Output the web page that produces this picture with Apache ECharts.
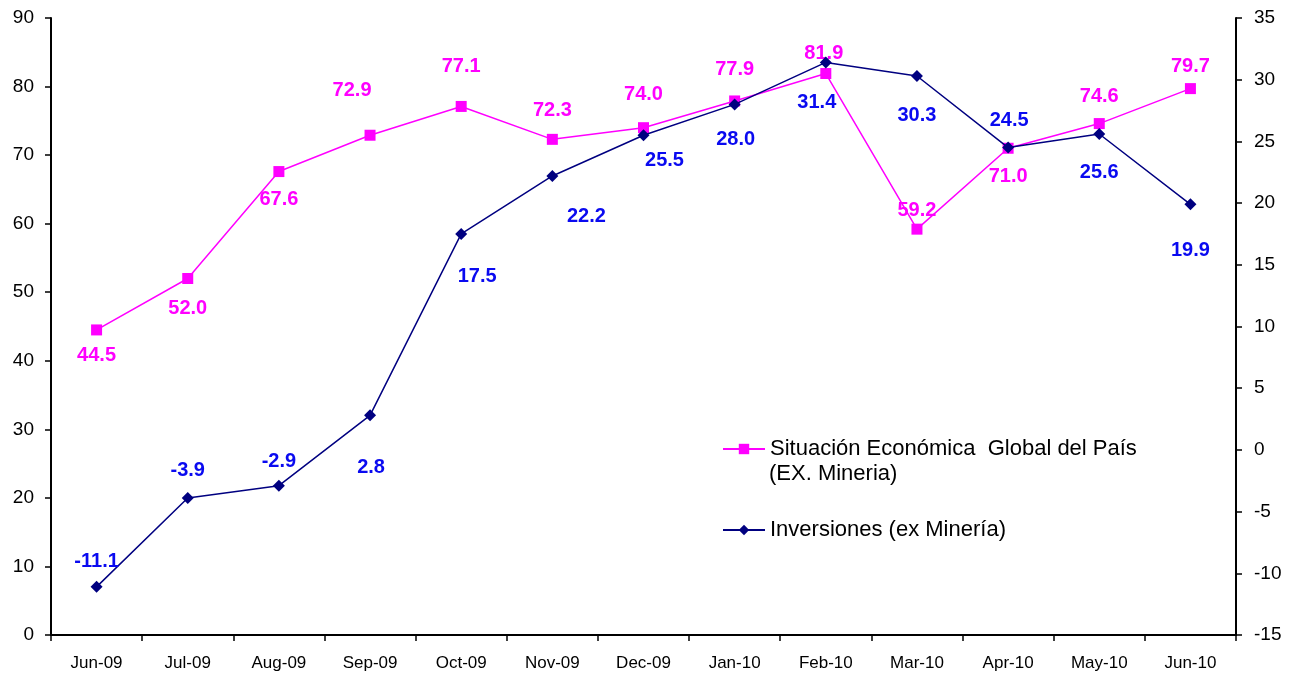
<!DOCTYPE html>
<html>
<head>
<meta charset="utf-8">
<script src="https://cdn.jsdelivr.net/npm/echarts@6/dist/echarts.min.js"></script>
<style>
  html, body { margin: 0; padding: 0; background: #fff; }
  #chart { width: 1294px; height: 673px; }
</style>
</head>
<body>
<div id="chart"></div>
<script>
// 数据
const months = ['Jun-09', 'Jul-09', 'Aug-09', 'Sep-09', 'Oct-09', 'Nov-09', 'Dec-09',
                'Jan-10', 'Feb-10', 'Mar-10', 'Apr-10', 'May-10', 'Jun-10'];
const situacion = [44.5, 52.0, 67.6, 72.9, 77.1, 72.3, 74.0, 77.9, 81.9, 59.2, 71.0, 74.6, 79.7];
const inversiones = [-11.1, -3.9, -2.9, 2.8, 17.5, 22.2, 25.5, 28.0, 31.4, 30.3, 24.5, 25.6, 19.9];

// 标签偏移 (px)
const situacionOffsets = [[0, 26], [0, 30], [0, 28], [-18, -45], [0, -40], [0, -29], [0, -33],
                          [0, -31], [-2, -20], [0, -19], [0, 28], [0, -27], [0, -22]];
const inversionesOffsets = [[0, -25], [0, -28], [0, -24], [1, 52], [16, 43], [34, 41], [21, 25],
                            [1, 35], [-9, 40], [0, 39], [1, -27], [0, 38], [0, 46]];

const FONT = 'Liberation Sans, Arial, sans-serif';
const chart = echarts.init(document.getElementById('chart'));

function buildData(values, offsets, color) {
    return values.map((v, i) => ({
        value: v,
        label: {
            show: true,
            position: 'inside',
            fontFamily: FONT,
            fontWeight: 'bold',
            fontSize: 20,
            color: color,
            offset: offsets[i],
            formatter: v.toFixed(1)
        }
    }));
}

const axisText = { color: '#000', fontFamily: FONT, fontSize: 19 };

const option = {
    animation: false,
    backgroundColor: '#fff',
    grid: { left: 51, right: 58, top: 18, bottom: 38, containLabel: false },
    legend: {
        orient: 'vertical',
        left: 717,
        top: 431,
        itemWidth: 42,
        itemHeight: 13,
        itemGap: 55,
        textStyle: { color: '#000', fontFamily: FONT, fontSize: 22, lineHeight: 26 },
        formatter: function (name) {
            if (name.indexOf('Situación') === 0) {
                return 'Situación Económica  Global del País';
            }
            return name;
        },
        data: ['Situación Económica Global del País (EX. Mineria)', 'Inversiones (ex Minería)']
    },
    graphic: [
        {
            type: 'text',
            left: 769,
            top: 463,
            style: { text: '(EX. Mineria)', fill: '#000', font: '22px ' + FONT }
        }
    ],
    xAxis: {
        type: 'category',
        data: months,
        boundaryGap: true,
        axisLine: { lineStyle: { color: '#000', width: 2 } },
        axisTick: { show: true, length: 6, lineStyle: { color: '#000', width: 1.5 } },
        axisLabel: { color: '#000', fontFamily: FONT, fontSize: 17, margin: 20, interval: 0 },
        splitLine: { show: false }
    },
    yAxis: [
        {
            type: 'value',
            min: 0, max: 90, interval: 10,
            axisLine: { show: true, lineStyle: { color: '#000', width: 2 } },
            axisTick: { show: true, length: 6, lineStyle: { color: '#000', width: 1.5 } },
            axisLabel: Object.assign({ margin: 17 }, axisText),
            splitLine: { show: false }
        },
        {
            type: 'value',
            min: -15, max: 35, interval: 5,
            position: 'right',
            axisLine: { show: true, lineStyle: { color: '#000', width: 2 } },
            axisTick: { show: true, length: 6, lineStyle: { color: '#000', width: 1.5 } },
            axisLabel: Object.assign({ margin: 18 }, axisText),
            splitLine: { show: false }
        }
    ],
    series: [
        {
            name: 'Situación Económica Global del País (EX. Mineria)',
            type: 'line',
            yAxisIndex: 0,
            data: buildData(situacion, situacionOffsets, '#FF00FF'),
            symbol: 'rect',
            symbolSize: 11,
            lineStyle: { color: '#FF00FF', width: 1.5 },
            itemStyle: { color: '#FF00FF' },
            z: 2
        },
        {
            name: 'Inversiones (ex Minería)',
            type: 'line',
            yAxisIndex: 1,
            data: buildData(inversiones, inversionesOffsets, '#0A0AF0'),
            symbol: 'diamond',
            symbolSize: 12,
            lineStyle: { color: '#000080', width: 1.5 },
            itemStyle: { color: '#000080' },
            z: 3
        }
    ]
};

chart.setOption(option);

window.addEventListener('resize', function () {
    chart.resize();
});
</script>
</body>
</html>
